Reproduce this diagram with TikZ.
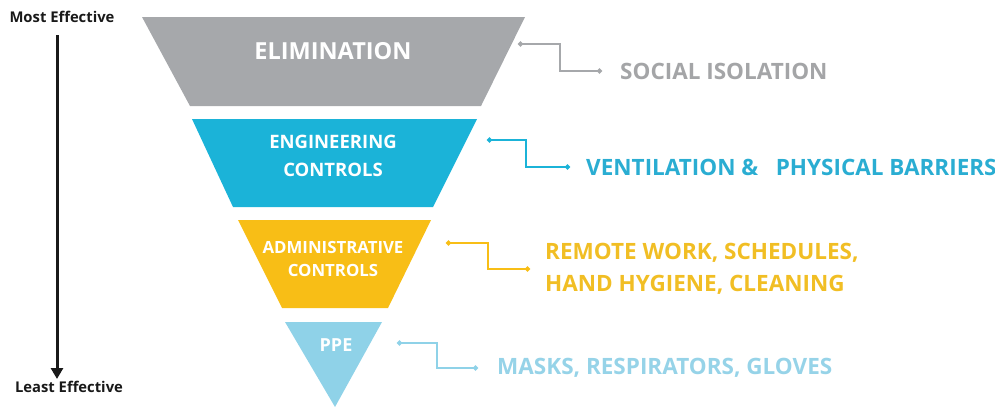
\documentclass[tikz,border=0pt]{standalone}
\usepackage{fontspec}
\setmainfont{Open Sans}
\usetikzlibrary{arrows.meta}

\definecolor{elimgray}{HTML}{A6A8AB}
\definecolor{elimtext}{HTML}{A4A5A7}
\definecolor{engblue}{HTML}{1BB3D8}
\definecolor{engtext}{HTML}{2AADD2}
\definecolor{admyellow}{HTML}{F8BE16}
\definecolor{admtext}{HTML}{F1BE24}
\definecolor{ppeblue}{HTML}{8FD2E8}
\definecolor{ppetext}{HTML}{96D3E8}

\begin{document}
\begin{tikzpicture}[x=1pt,y=-1pt,
	tier/.style ={text=white, font=\bfseries, align=center, inner sep=0pt},
	result/.style ={anchor=west, font=\bfseries\fontsize{22.5}{26}\selectfont, align=left, inner sep=0pt},
	link/.style ={line width=1.3pt, {Circle[length=5pt]}-{Circle[length=5pt]}},
	side/.style ={font=\bfseries\fontsize{14.8}{18}\selectfont, text=black!90, inner sep=0pt}]
		\useasboundingbox (0,0) rectangle (995,407);
		% inverted pyramid
		\fill[elimgray] (142,17) -- (525,17) -- (481,106) -- (190,106) -- cycle;
		\fill[engblue] (192,119) -- (477,119) -- (433,207) -- (233,207) -- cycle;
		\fill[admyellow] (238,220) -- (431,220) -- (388,308) -- (282,308) -- cycle;
		\fill[ppeblue] (285,322) -- (382,322) -- (335,407) -- cycle;
		\node[tier, font=\bfseries\fontsize{23.5}{28}\selectfont] (elim) at (333,51) {ELIMINATION};
		\node[tier, font=\bfseries\fontsize{18.5}{28}\selectfont] (eng) at (333,156) {ENGINEERING\\CONTROLS};
		\node[tier, font=\bfseries\fontsize{16.8}{23}\selectfont] (admin) at (333,259) {ADMINISTRATIVE\\CONTROLS};
		\node[tier, font=\bfseries\fontsize{18}{18}\selectfont] (ppe) at (336,345) {PPE};
		% measures
		\node[result, text=elimtext] (social) at (620,71) {SOCIAL ISOLATION};
		\node[result, text=engtext] (vent) at (586,167) {VENTILATION \&\ \ \ PHYSICAL BARRIERS};
		\node[result, text=admtext, font=\bfseries\fontsize{22.5}{32}\selectfont] (remote) at (545,269) {REMOTE WORK, SCHEDULES,\\HAND HYGIENE, CLEANING};
		\node[result, text=ppetext] (masks) at (497,368) {MASKS, RESPIRATORS, GLOVES};
		\coordinate (elimdot) at (518,44);
		\coordinate (engdot) at (487,140);
		\coordinate (admindot) at (446,243);
		\coordinate (ppedot) at (397,343);
		\draw[link, elimgray] (elimdot) -- (560,44) |- ([xshift=-18pt]social.west);
		\draw[link, engblue] (engdot) -- (526,140) |- ([xshift=-16pt]vent.west);
		\draw[link, admyellow] (admindot) -- (488,243) |- ([xshift=-15pt]remote.west);
		\draw[link, ppeblue] (ppedot) -- (437,343) |- ([xshift=-19pt]masks.west);
		% effectiveness arrow
		\node[side] (most) at (62,17) {Most Effective};
		\node[side] (least) at (69,387) {Least Effective};
		\coordinate (arrowtop) at (57,35);
		\coordinate (arrowtip) at (57,379);
		\draw[line width=3pt, black!90, -{Triangle[length=11pt, width=12pt]}] (arrowtop) -- (arrowtip);
	\end{tikzpicture}
\end{document}
